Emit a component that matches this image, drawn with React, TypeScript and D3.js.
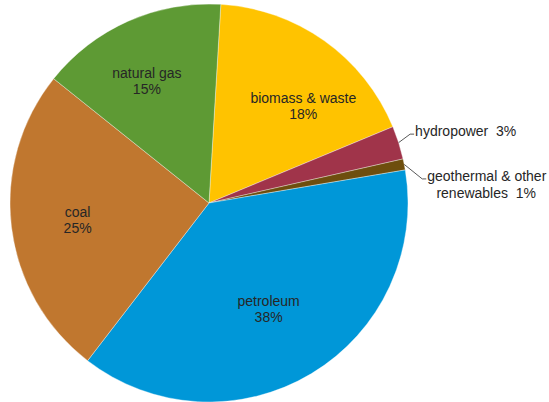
import React from "react";
import * as d3 from "d3";

const categories = ["biomass & waste", "hydropower", "geothermal & other renewables", "petroleum", "coal", "natural gas"];
const values = [17.8, 2.7, 0.9, 38.1, 25.3, 15.2];
const percentLabels = ["18%", "3%", "1%", "38%", "25%", "15%"];
const colors = ["#FFC300", "#A0344A", "#6E4E0E", "#0097D8", "#C0772F", "#5E9A34"];

const W = 549;
const H = 402;
const cx = 209;
const cy = 203;
const R = 199;
const startDeg = 3.4;

// label layout tweaks (pixels) relative to centroid at 0.67R
const labelOffsets: Record<string, [number, number]> = {
  "biomass & waste": [17, 10],
  "petroleum": [-9, -10],
  "coal": [1, -1],
  "natural gas": [-8, -2],
};

export default function App() {
  const data = categories.map((c, i) => ({ name: c, value: values[i], pct: percentLabels[i], color: colors[i] }));
  const a0 = (startDeg * Math.PI) / 180;
  const pie = d3.pie<any>().sort(null).value((d) => d.value).startAngle(a0).endAngle(a0 + 2 * Math.PI);
  const arcs = pie(data);
  const arc = d3.arc<any>().innerRadius(0).outerRadius(R);
  const labelArc = d3.arc<any>().innerRadius(R * 0.67).outerRadius(R * 0.67);
  const font = "Liberation Sans, Arial, sans-serif";
  const textColor = "#262626";

  const polar = (ang: number, r: number): [number, number] => [Math.sin(ang) * r, -Math.cos(ang) * r];

  return (
    <svg width={W} height={H} style={{ position: "absolute", left: 0, top: 0, background: "#fff" }} fontFamily={font}>
      <g transform={`translate(${cx},${cy})`}>
        {arcs.map((a, i) => (
          <path key={i} d={arc(a) as string} fill={a.data.color} stroke="#ffffff" strokeOpacity={0.5} strokeWidth={0.7} />
        ))}
        {arcs.map((a, i) => {
          const off = labelOffsets[a.data.name];
          if (!off) return null;
          const [x, y] = labelArc.centroid(a);
          return (
            <text key={"l" + i} x={x + off[0]} y={y + off[1]} textAnchor="middle" fontSize={14} fill={textColor}>
              <tspan x={x + off[0]} dy="-0.1em">{a.data.name}</tspan>
              <tspan x={x + off[0]} dy="1.17em">{a.data.pct}</tspan>
            </text>
          );
        })}
        {arcs.map((a, i) => {
          if (a.data.name === "hydropower") {
            const mid = (a.startAngle + a.endAngle) / 2;
            const [px, py] = polar(mid, R);
            const ex = px + 11.5, ey = py - 8.5;
            return (
              <g key={"o" + i}>
                <polyline points={`${px},${py} ${ex},${ey} ${ex + 4},${ey}`} fill="none" stroke="#595959" strokeWidth={1} />
                <text x={ex + 5} y={ey - 3.5} dominantBaseline="central" fontSize={14} fill={textColor} style={{ whiteSpace: "pre" }}>
                  {"hydropower  " + a.data.pct}
                </text>
              </g>
            );
          }
          if (a.data.name === "geothermal & other renewables") {
            const mid = (a.startAngle + a.endAngle) / 2;
            const [px, py] = polar(mid, R);
            const ex = px + 18, ey = py + 14.5;
            return (
              <g key={"o" + i}>
                <polyline points={`${px},${py} ${ex},${ey} ${ex + 4},${ey}`} fill="none" stroke="#595959" strokeWidth={1} />
                <text x={ex + 5} y={ey - 2.5} dominantBaseline="central" fontSize={14} fill={textColor}>
                  {"geothermal & other"}
                </text>
                <text x={ex + 64} y={ey + 14} dominantBaseline="central" textAnchor="middle" fontSize={14} fill={textColor} style={{ whiteSpace: "pre" }}>
                  {"renewables  " + a.data.pct}
                </text>
              </g>
            );
          }
          return null;
        })}
      </g>
    </svg>
  );
}
